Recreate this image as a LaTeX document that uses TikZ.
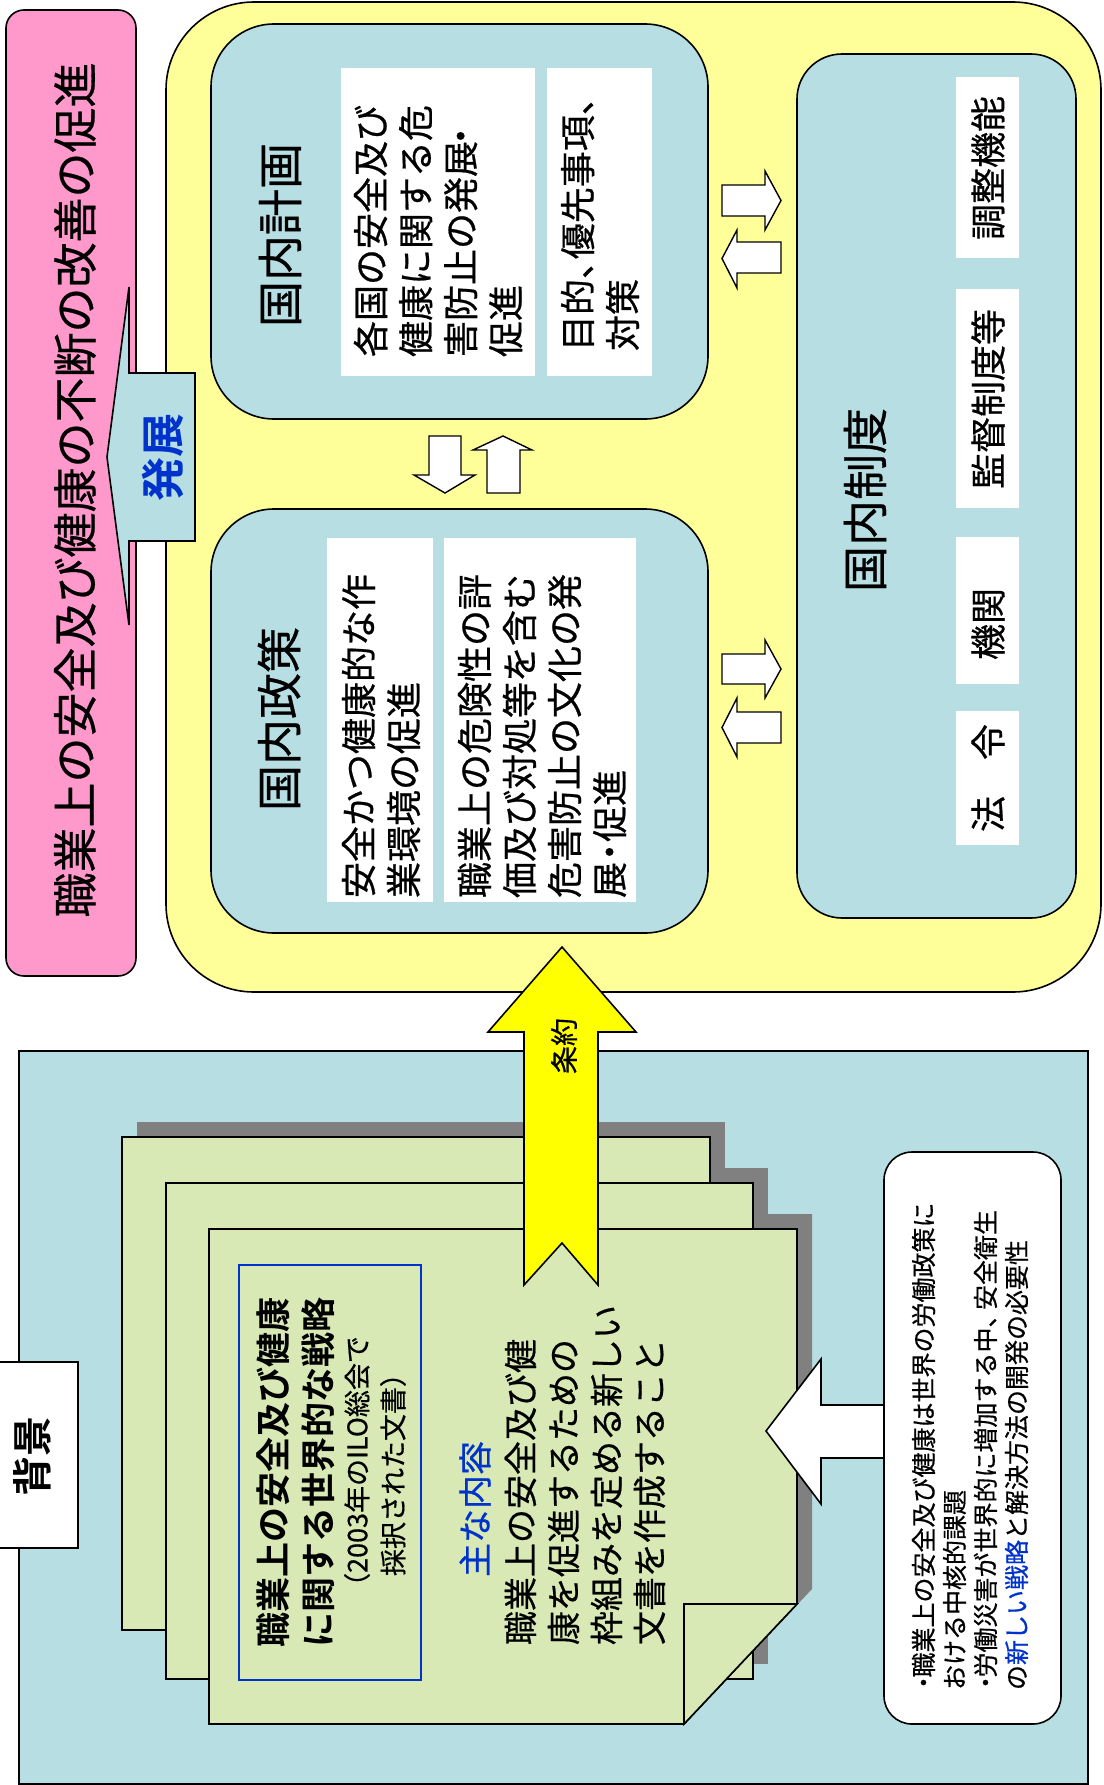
\documentclass[tikz,border=0pt]{standalone}
\usepackage{fontspec}
\setmainfont{Noto Sans CJK JP}[BoldFont={Noto Sans CJK JP Bold}]
\newfontfamily\jpm{Noto Sans CJK JP}[FakeBold=0.6]
\definecolor{pinkbg}{RGB}{255,153,204}
\definecolor{yelbg}{RGB}{255,255,153}
\definecolor{lbl}{RGB}{183,222,226}
\definecolor{pg}{RGB}{216,233,181}
\definecolor{shd}{RGB}{128,128,128}
\definecolor{btxt}{RGB}{0,51,204}
\definecolor{yarrow}{RGB}{255,255,0}
\newcommand{\fsz}[2]{\fontsize{#1}{#2}\selectfont}
\newcommand{\hdot}{\kern-.22em・\kern-.22em}
\newcommand{\edot}{\kern-.36em・}
\newcommand{\bdot}{\kern-.2em・\kern-.3em}
\begin{document}
\begin{tikzpicture}[x=1pt,y=-1pt,line join=miter,
  ol/.style={draw=black,line width=1.6pt},
  rt/.style={rotate=90,inner sep=0pt,outer sep=0pt},
  barrow/.style={fill=white,draw=black,line width=1.4pt},
  txtbig/.style={font=\jpm\fsz{46}{52}},
  txtmid/.style={font=\jpm\fsz{36}{45}},
  txtsm/.style={font=\jpm\fsz{36}{40}}]
\fill[white] (0,0) rectangle (1103,1785);
\useasboundingbox (0,0) rectangle (1103,1785);

% ---------- upper part ----------
\draw[fill=pinkbg,ol,rounded corners=18pt] (6,10) rectangle (136,976);
\node[rt,font=\jpm\fsz{45}{50}] (title) at (75,490) {職業上の安全及び健康の不断の改善の促進};

\draw[fill=yelbg,ol,rounded corners=88pt] (166,2) rectangle (1101,992);

% development arrow
\draw[fill=lbl,ol] (107,457) -- (129,287) -- (129,373) -- (195,373) -- (195,541) -- (129,541) -- (129,625) -- cycle;
\node[rt,font=\bfseries\fsz{44}{50},text=btxt] (dev) at (163,457) {発展};

% national plan
\draw[fill=lbl,ol,rounded corners=63pt] (211,24) rectangle (708,419);
\node[rt,txtbig] (plan) at (280,235) {国内計画};
\fill[white] (341,68) rectangle (535,376);
\fill[white] (547,68) rectangle (652,376);
\node[rt,txtmid,anchor=west,align=left] (plana) at (438,357) {各国の安全及び\\健康に関する危\\害防止の発展\edot\\促進};
\node[rt,txtmid,anchor=west,align=left] (planb) at (600,351) {目的、\kern-.45em優先事項、\\対策};

% national policy
\draw[fill=lbl,ol,rounded corners=63pt] (211,509) rectangle (708,933);
\node[rt,txtbig] (policy) at (279,719) {国内政策};
\fill[white] (327,538) rectangle (433,902);
\fill[white] (444,538) rectangle (636,902);
\node[rt,txtmid,anchor=west,align=left] (pola) at (381,898) {安全かつ健康的な作\\業環境の促進};
\node[rt,txtmid,anchor=west,align=left] (polb) at (542,898) {職業上の危険性の評\\価及び対処等を含む\\危害防止の文化の発\\展\hdot 促進};

% national system
\draw[fill=lbl,ol,rounded corners=45pt] (797,54) rectangle (1076,918);
\node[rt,txtbig] (sys) at (865,500) {国内制度};
\fill[white] (956,77) rectangle (1019,258);
\fill[white] (956,289) rectangle (1019,508);
\fill[white] (956,537) rectangle (1019,684);
\fill[white] (956,711) rectangle (1019,845);
\node[rt,txtsm] (s1) at (988,168) {調整機能};
\node[rt,txtsm] (s2) at (988,399) {監督制度等};
\node[rt,txtsm] (s3) at (988,624) {機関};
\node[rt,txtsm] (s4) at (988,778) {法　令};

% double arrows plan <-> system
\draw[barrow] (722,185) -- (765,185) -- (765,171) -- (781,200.5) -- (765,230) -- (765,216) -- (722,216) -- cycle;
\draw[barrow] (722,258.5) -- (737,230) -- (737,242) -- (781,242) -- (781,273) -- (737,273) -- (737,288) -- cycle;
% double arrows policy <-> system
\draw[barrow] (722,654) -- (765,654) -- (765,640) -- (781,669) -- (765,698) -- (765,684) -- (722,684) -- cycle;
\draw[barrow] (722,727.5) -- (737,698) -- (737,712) -- (781,712) -- (781,743) -- (737,743) -- (737,757) -- cycle;
% vertical arrows plan <-> policy
\draw[barrow] (429,436) -- (461,436) -- (461,475) -- (475,475) -- (445,493) -- (414,475) -- (429,475) -- cycle;
\draw[barrow] (503,436) -- (532,450) -- (520,450) -- (520,493) -- (487,493) -- (487,450) -- (473,450) -- cycle;

% ---------- background part ----------
\draw[fill=lbl,ol] (19,1051) rectangle (1088,1784);
\draw[fill=white,ol] (-2,1362) rectangle (78,1548);
\node[rt,font=\bfseries\fsz{40}{46}] (bg) at (32,1456) {背景};

% shadows
\fill[shd] (137,1122) rectangle (725,1615);
\fill[shd] (181,1168) rectangle (768,1664);
\fill[shd] (224,1214) -- (812,1214) -- (812,1589) -- (699,1709) -- (224,1709) -- cycle;
% pages
\draw[fill=pg,ol] (122,1137) rectangle (710,1630);
\draw[fill=pg,ol] (166,1183) rectangle (753,1679);
\draw[fill=pg,ol] (209,1229) -- (797,1229) -- (797,1604) -- (684,1724) -- (209,1724) -- cycle;
\draw[fill=pg,ol] (684,1724) -- (684,1604) -- (797,1604) -- cycle;

\draw[draw=btxt,line width=1.5pt] (239,1265) rectangle (421,1680);
\node[rt,font=\bfseries\fsz{35}{45},align=center] (strat) at (296,1472) {職業上の安全及び健康\\に関する世界的な戦略};
\node[rt,font=\jpm\fsz{27}{36},align=center] (strat2) at (375,1468) {（2003年のILO総会で\\採択された文書）};
\node[rt,font=\jpm\fsz{34}{43},text=btxt,anchor=west] (main) at (475,1577) {主な内容};
\node[rt,font=\jpm\fsz{34}{43},anchor=west,align=left] (maintxt) at (585,1645) {職業上の安全及び健\\康を促進するための\\枠組みを定める新しい\\文書を作成すること};

% treaty arrow
\draw[fill=yarrow,ol] (562,947) -- (636,1032) -- (598,1032) -- (598,1285) -- (562,1243) -- (524,1285) -- (524,1032) -- (488,1032) -- cycle;
\node[rt,font=\jpm\fsz{28}{34}] (treaty) at (564,1046) {条約};

% right info box and arrow
\draw[fill=white,ol] (766,1431) -- (821,1359) -- (821,1405) -- (884,1405) -- (884,1458) -- (821,1458) -- (821,1504) -- cycle;
\draw[fill=white,ol,rounded corners=28pt] (884,1152) rectangle (1061,1724);
\node[rt,font=\jpm\fsz{25}{31},anchor=west,align=left] (info) at (970,1690) {\bdot 職業上の安全及び健康は世界の労働政策に\\おける中核的課題\\\bdot 労働災害が世界的に増加する中、\kern-.3em 安全衛生\\の\textcolor{btxt}{新しい戦略}と解決方法の開発の必要性};
\end{tikzpicture}
\end{document}
